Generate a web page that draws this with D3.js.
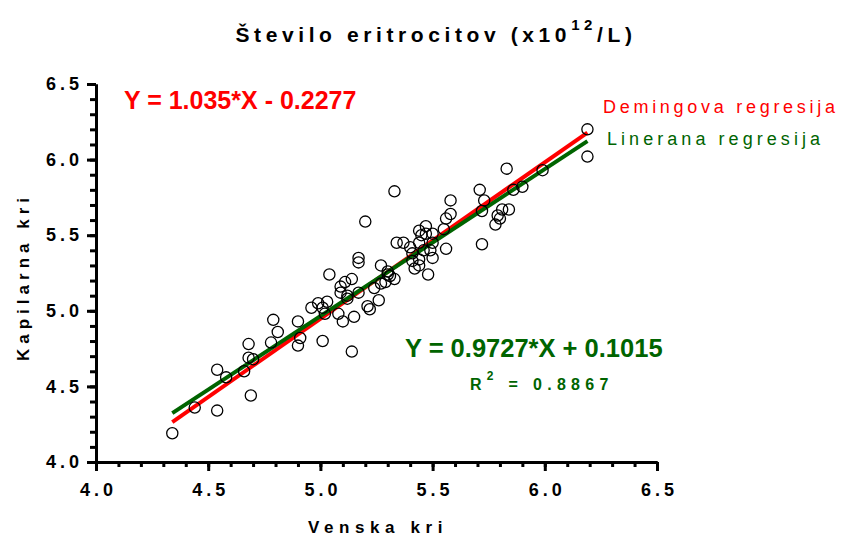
<!DOCTYPE html>
<html>
<head>
<meta charset="utf-8">
<script src="https://cdn.jsdelivr.net/npm/d3@7"></script>
<style>
  body { margin: 0; background: #fff; }
  text { font-family: "Liberation Sans", Arial, sans-serif; }
</style>
</head>
<body>
<svg id="chart" width="846" height="536"></svg>
<script>
// venska kri (x) / kapilarna kri (y)
var venska = [4.34, 4.44, 4.54, 4.54, 4.58, 4.69, 4.66, 4.68, 4.68, 4.70,
  4.79, 4.81, 4.78, 4.90, 4.91, 4.90, 5.01, 4.96, 4.99, 5.01,
  5.03, 5.02, 5.08, 5.10, 5.15, 5.04, 5.09, 5.09, 5.11, 5.14,
  5.12, 5.17, 5.17, 5.17, 5.27, 5.21, 5.22, 5.26, 5.24, 5.27,
  5.30, 5.29, 5.33, 5.20, 5.34, 5.37, 5.40, 5.48, 5.56, 5.58,
  5.56, 5.58, 5.55, 5.71, 5.72, 5.44, 5.47, 5.47, 5.45, 5.50,
  5.50, 5.49, 5.46, 5.44, 5.41, 5.41, 5.44, 5.42, 5.44, 5.50,
  5.30, 5.33, 6.19, 6.19, 5.99, 5.83, 5.90, 5.86, 5.73, 5.72,
  5.84, 5.81, 5.79, 5.78, 5.80, 5.14, 5.31, 5.12];
var kapilarna = [4.19, 4.36, 4.34, 4.61, 4.56, 4.44, 4.60, 4.78, 4.69, 4.68,
  4.94, 4.86, 4.79, 4.93, 4.82, 4.77, 4.80, 5.02, 5.05, 5.02,
  5.06, 4.98, 4.98, 4.93, 4.96, 5.24, 5.16, 5.12, 5.19, 5.21,
  5.08, 5.12, 5.35, 5.32, 5.30, 5.03, 5.01, 5.07, 5.15, 5.18,
  5.24, 5.19, 5.79, 5.59, 5.45, 5.45, 5.42, 5.24, 5.41, 5.73,
  5.61, 5.64, 5.54, 5.80, 5.44, 5.53, 5.56, 5.51, 5.50, 5.51,
  5.45, 5.40, 5.40, 5.45, 5.38, 5.33, 5.30, 5.28, 5.34, 5.35,
  5.26, 5.21, 6.20, 6.02, 5.93, 5.94, 5.82, 5.80, 5.73, 5.66,
  5.67, 5.67, 5.63, 5.57, 5.61, 4.73, 5.23, 5.10];

var majorTicks = [4.0, 4.5, 5.0, 5.5, 6.0, 6.5];
var fitRange = [4.34, 6.19];
var deming = { slope: 1.035, intercept: -0.2277 };
var linear = { slope: 0.9727, intercept: 0.1015 };

var points = venska.map(function(v, i) { return { x: v, y: kapilarna[i] }; });
var minorTicks = d3.range(40, 66).map(function(d) { return d / 10; });

var svg = d3.select('#chart');
var x = d3.scaleLinear().domain([4, 6.5]).range([96, 657]);
var y = d3.scaleLinear().domain([4, 6.5]).range([462, 84]);

var red = '#ff0000', green = '#006400';

// axes
function styleAxis(g) {
  g.select('.domain').attr('stroke', '#000').attr('stroke-width', 3);
  g.selectAll('.tick line').attr('stroke', '#000').attr('stroke-width', 3);
  g.selectAll('.tick text')
    .attr('font-family', '"Liberation Sans", Arial, sans-serif')
    .attr('font-size', 18).attr('font-weight', 'bold')
    .attr('letter-spacing', 4).attr('fill', '#000');
}

svg.append('g').attr('transform', 'translate(0,' + y(4) + ')')
  .call(d3.axisBottom(x).tickValues(minorTicks).tickSize(5).tickSizeOuter(0).tickFormat(''))
  .call(styleAxis);
svg.append('g').attr('transform', 'translate(0,' + y(4) + ')')
  .call(d3.axisBottom(x).tickValues(majorTicks).tickSize(9).tickSizeOuter(0).tickPadding(12).tickFormat(d3.format('.1f')))
  .call(styleAxis)
  .selectAll('.tick text').attr('dx', 2);

svg.append('g').attr('transform', 'translate(' + x(4) + ',0)')
  .call(d3.axisLeft(y).tickValues(minorTicks).tickSize(6).tickSizeOuter(0).tickFormat(''))
  .call(styleAxis);
svg.append('g').attr('transform', 'translate(' + x(4) + ',0)')
  .call(d3.axisLeft(y).tickValues(majorTicks).tickSize(9).tickSizeOuter(0).tickPadding(4).tickFormat(d3.format('.1f')))
  .call(styleAxis);

// regression lines
[[deming, red], [linear, green]].forEach(function(r) {
  svg.append('line')
    .attr('x1', x(fitRange[0])).attr('y1', y(r[0].slope * fitRange[0] + r[0].intercept))
    .attr('x2', x(fitRange[1])).attr('y2', y(r[0].slope * fitRange[1] + r[0].intercept))
    .attr('stroke', r[1]).attr('stroke-width', 4);
});

// points
svg.append('g').selectAll('circle')
  .data(points).enter()
  .append('circle')
  .attr('cx', function(d) { return x(d.x); })
  .attr('cy', function(d) { return y(d.y); })
  .attr('r', 5.6)
  .attr('fill', 'none')
  .attr('stroke', '#000')
  .attr('stroke-width', 1.3);

// title
var title = svg.append('text')
  .attr('x', 436).attr('y', 42)
  .attr('text-anchor', 'middle')
  .attr('font-size', 21).attr('font-weight', 'bold')
  .attr('letter-spacing', 4.6);
title.append('tspan').text('Število eritrocitov (x10');
title.append('tspan').attr('dy', -12).attr('font-size', 15).text('12');
title.append('tspan').attr('dy', 12).text('/L)');

// axis titles
svg.append('text')
  .attr('x', 378).attr('y', 533)
  .attr('text-anchor', 'middle')
  .attr('font-size', 17).attr('font-weight', 'bold')
  .attr('letter-spacing', 5.6)
  .text('Venska kri');

svg.append('text')
  .attr('transform', 'translate(29,277) rotate(-90)')
  .attr('text-anchor', 'middle')
  .attr('font-size', 17).attr('font-weight', 'bold')
  .attr('letter-spacing', 5)
  .text('Kapilarna kri');

// equations
svg.append('text')
  .attr('x', 124).attr('y', 109)
  .attr('font-size', 25).attr('font-weight', 'bold')
  .attr('fill', red)
  .text('Y = 1.035*X - 0.2277');

svg.append('text')
  .attr('x', 405).attr('y', 357)
  .attr('font-size', 25.5).attr('font-weight', 'bold')
  .attr('fill', green)
  .text('Y = 0.9727*X + 0.1015');

var r2 = svg.append('text')
  .attr('x', 470).attr('y', 390)
  .attr('font-size', 16).attr('font-weight', 'bold')
  .attr('letter-spacing', 5.3)
  .attr('fill', green);
r2.append('tspan').text('R');
r2.append('tspan').attr('dy', -10).attr('font-size', 12).text('2');
r2.append('tspan').attr('dy', 10).text(' = 0.8867');

// legend
svg.append('text')
  .attr('x', 603).attr('y', 113)
  .attr('font-size', 18)
  .attr('textLength', 232).attr('lengthAdjust', 'spacing')
  .attr('fill', red)
  .text('Demingova regresija');

svg.append('text')
  .attr('x', 607).attr('y', 145)
  .attr('font-size', 18)
  .attr('textLength', 213).attr('lengthAdjust', 'spacing')
  .attr('fill', green)
  .text('Linerana regresija');
</script>
</body>
</html>
